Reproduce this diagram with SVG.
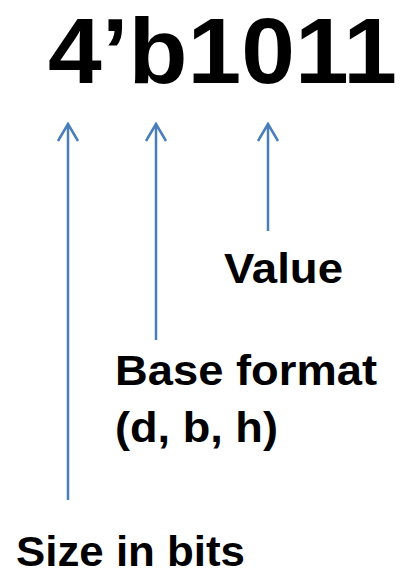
<svg xmlns="http://www.w3.org/2000/svg" width="402" height="575" viewBox="0 0 402 575">
<defs>
<style>
.t{font-family:"Liberation Sans",Arial,sans-serif;font-weight:bold;fill:#000}
.c line{stroke:#4A7EBB;stroke-width:2.5;fill:none}
.c polyline{stroke:#4A7EBB;stroke-width:2.5;fill:none;stroke-linejoin:miter}
</style>
</defs>
<rect width="402" height="575" fill="#fff"/>
<g id="title"><text class="t" x="48" y="83" font-size="92" textLength="349" lengthAdjust="spacingAndGlyphs">4’b1011</text></g>
<g id="value"><text class="t" x="224" y="283" font-size="43" textLength="119" lengthAdjust="spacingAndGlyphs">Value</text></g>
<g id="base"><text class="t" x="115" y="385" font-size="43" textLength="262" lengthAdjust="spacingAndGlyphs">Base format</text>
<text class="t" x="115" y="442" font-size="43" textLength="163" lengthAdjust="spacingAndGlyphs">(d, b, h)</text></g>
<g id="size"><text class="t" x="16" y="566" font-size="42" textLength="229" lengthAdjust="spacingAndGlyphs">Size in bits</text></g>
<g id="connectors" class="c">
<line x1="68" y1="500" x2="68" y2="124"/>
<polyline points="58,141 68,124 78,141"/>
<line x1="156" y1="340" x2="156" y2="124"/>
<polyline points="146,141 156,124 166,141"/>
<line x1="268" y1="231" x2="268" y2="124"/>
<polyline points="258,141 268,124 278,141"/>
</g>
</svg>
